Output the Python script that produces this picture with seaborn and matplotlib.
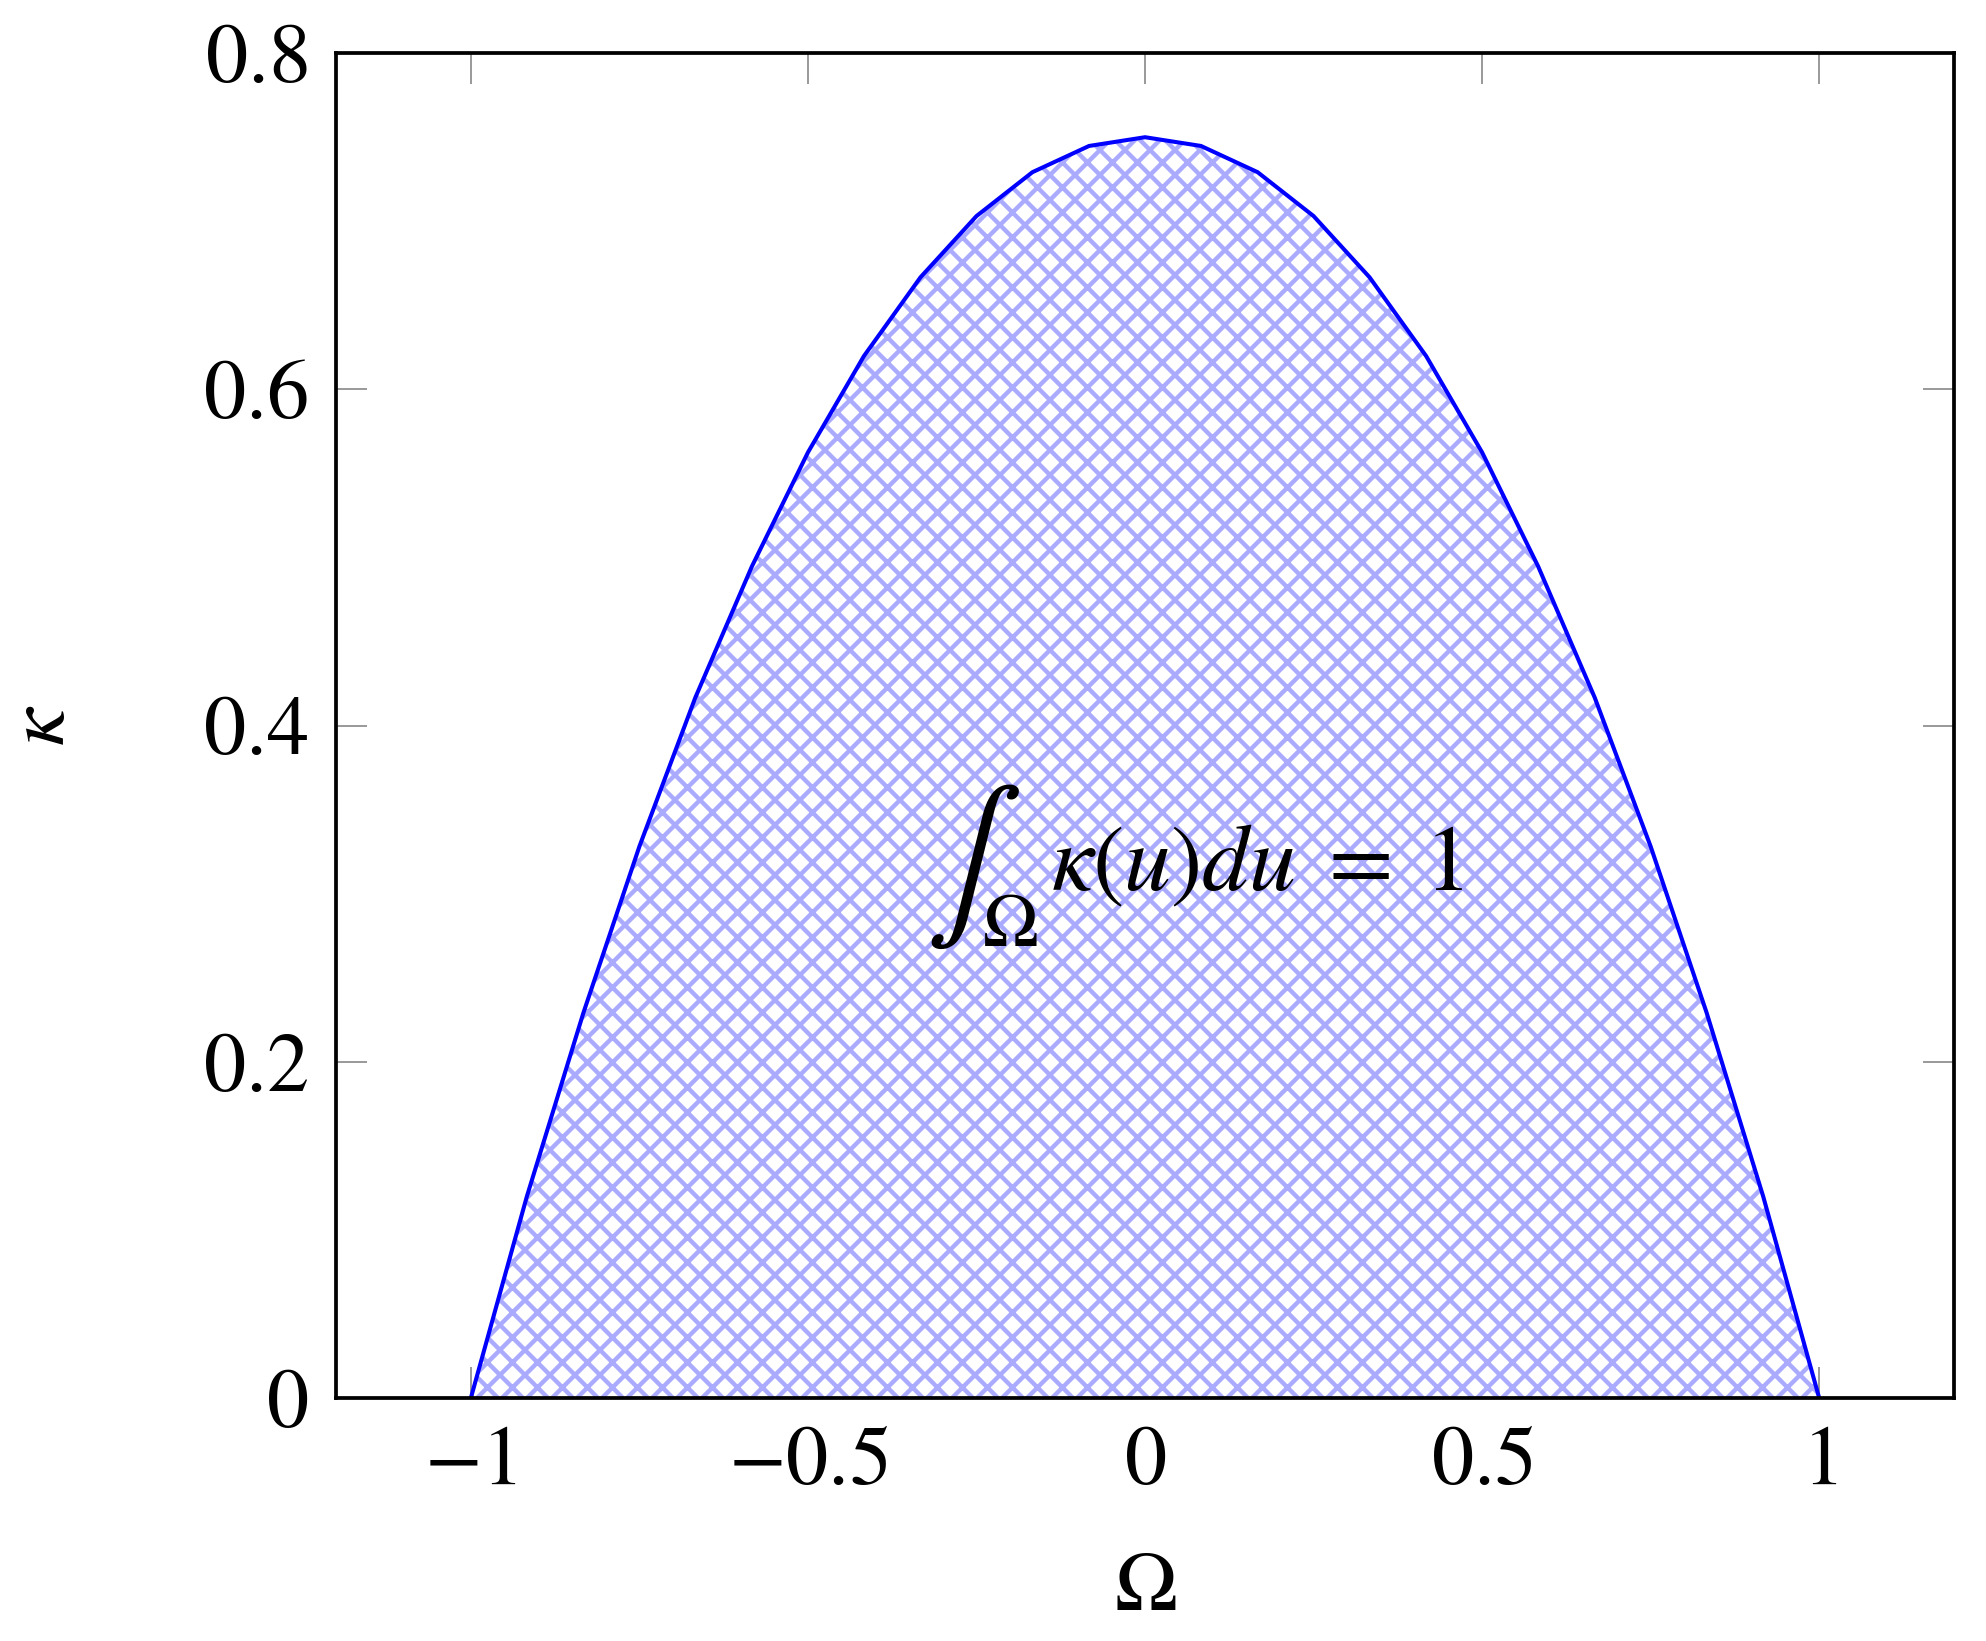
import matplotlib
matplotlib.use("Agg")
import matplotlib.pyplot as plt
import seaborn as sns
import pandas as pd

# === Data ===
u_vals = [-1.0, -0.917, -0.833, -0.75, -0.667, -0.583, -0.5, -0.417, -0.333,
          -0.25, -0.167, -0.083, 0.0, 0.083, 0.167, 0.25, 0.333, 0.417, 0.5,
          0.583, 0.667, 0.75, 0.833, 0.917, 1.0]
kappa_vals = [0.0, 0.1198, 0.2292, 0.3281, 0.4167, 0.4948, 0.5625, 0.6198, 0.6667,
              0.7031, 0.7292, 0.7448, 0.75, 0.7448, 0.7292, 0.7031, 0.6667, 0.6198,
              0.5625, 0.4948, 0.4167, 0.3281, 0.2292, 0.1198, 0.0]
x_ticks = [-1, -0.5, 0, 0.5, 1]
x_ticklabels = ["$-1$", "$-0.5$", "$0$", "$0.5$", "$1$"]
y_ticks = [0, 0.2, 0.4, 0.6, 0.8]
y_ticklabels = ["$0$", "$0.2$", "$0.4$", "$0.6$", "$0.8$"]

df = pd.DataFrame({"u": u_vals, "kappa": kappa_vals})

sns.set_theme(style="white")
plt.rcParams["font.family"] = ["STIXGeneral", "DejaVu Serif"]
plt.rcParams["mathtext.fontset"] = "stix"
plt.rcParams["hatch.linewidth"] = 1.4
plt.rcParams["text.color"] = "black"
plt.rcParams["axes.labelcolor"] = "black"

DPI = 225
fig = plt.figure(figsize=(1986 / DPI, 1641 / DPI), dpi=DPI)
ax = fig.add_axes([0.1692, 0.1481, 0.8147, 0.8195])

# hatched area under the curve
ax.fill_between(df["u"], df["kappa"], 0, facecolor="white",
                edgecolor="#aaaaff", hatch="xxx", linewidth=0, zorder=1)
sns.lineplot(data=df, x="u", y="kappa", ax=ax, color="#0000ff",
             linewidth=1.3, zorder=3, sort=False)

# annotation: big integral sign, subscript, then the rest
ax.text(-0.255, 0.316, r"$\int$", fontsize=46, ha="center", va="center", zorder=4)
ax.text(-0.200, 0.279, r"$\Omega$", fontsize=24, ha="center", va="center", zorder=4)
ax.text(-0.139, 0.302, r"$\kappa(u)du\;=\;1$", fontsize=30,
        ha="left", va="baseline", zorder=4)

ax.set_xlim(-1.2, 1.2)
ax.set_ylim(0, 0.8)
ax.set_xticks(x_ticks)
ax.set_xticklabels(x_ticklabels)
ax.set_yticks(y_ticks)
ax.set_yticklabels(y_ticklabels)
ax.tick_params(direction="in", length=10, width=0.5, color="#808080",
               top=True, right=True, bottom=True, left=True,
               labelsize=27, labelcolor="black", pad=9)
ax.set_xlabel(r"$\Omega$", fontsize=27, labelpad=16)
ax.set_ylabel(r"$\kappa$", fontsize=27)
ax.yaxis.set_label_coords(-0.157, 0.5)

for sp in ax.spines.values():
    sp.set_color("black")
    sp.set_linewidth(1.2)
    sp.set_visible(True)
    sp.set_zorder(5)

fig.savefig("out.png", dpi=DPI)
plt.close()
